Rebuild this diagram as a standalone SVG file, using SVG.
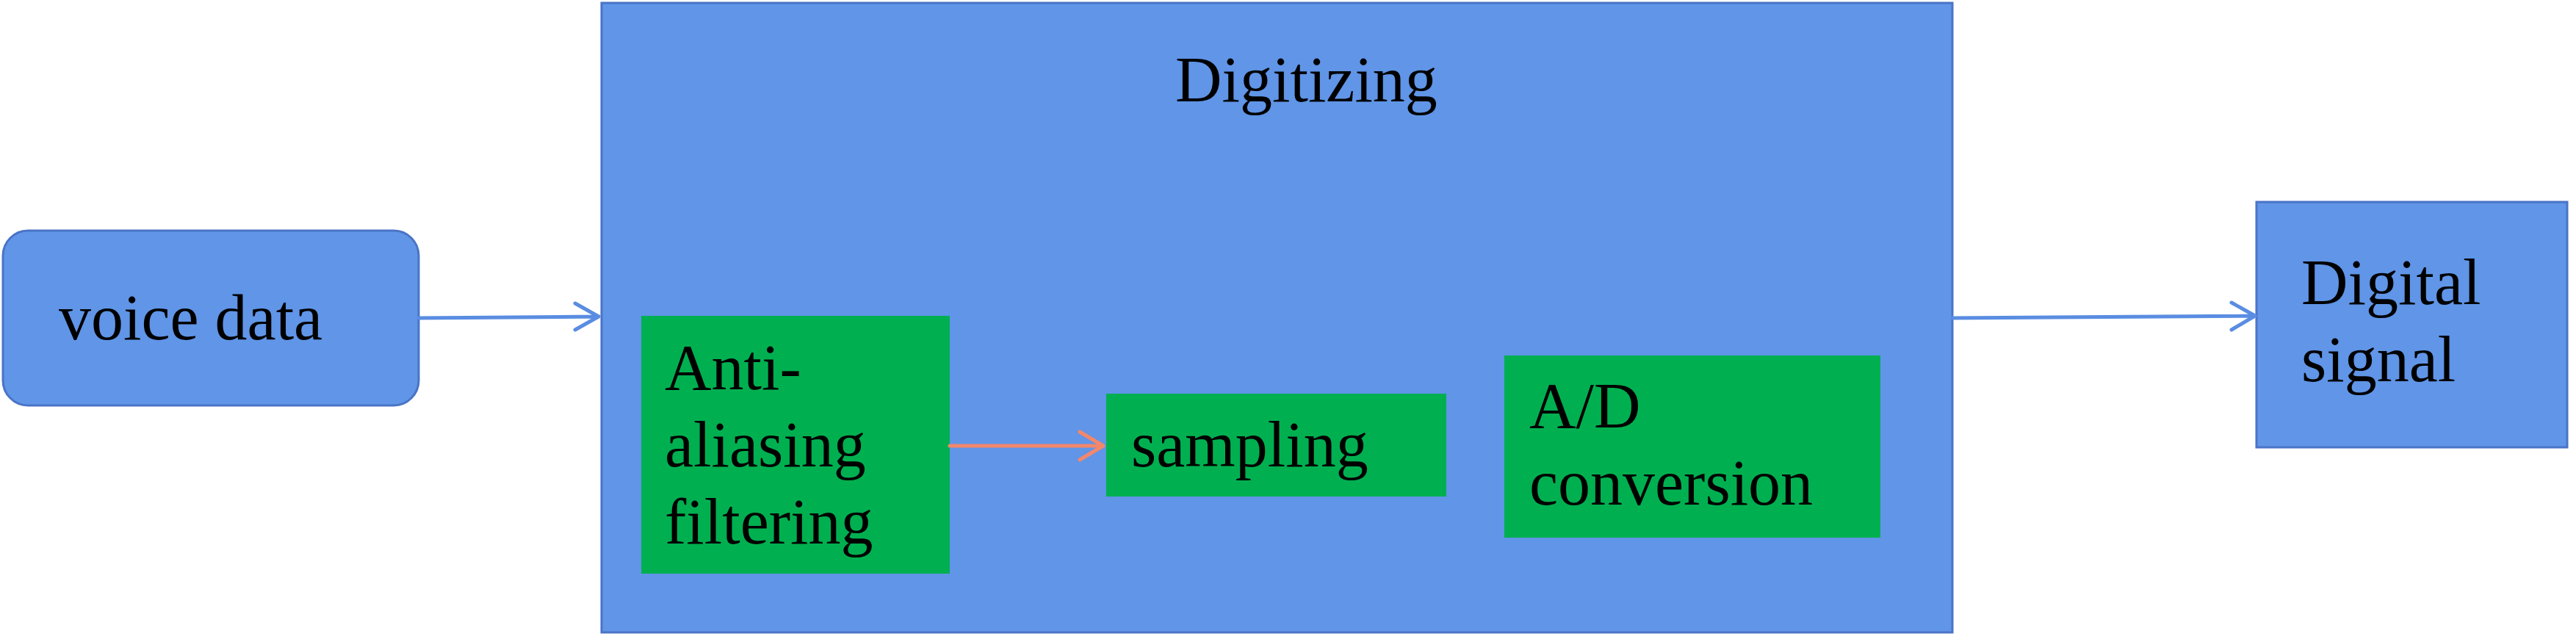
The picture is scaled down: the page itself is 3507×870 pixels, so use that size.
<svg xmlns="http://www.w3.org/2000/svg" width="3507" height="870" viewBox="0 0 3507 870">
<style>
.blue{fill:#6095E7;stroke:#4A74C6;stroke-width:3}
.green{fill:#00B050}
.t{font-family:"Liberation Serif","Times New Roman",serif;font-size:88px;fill:#000}
.cb{stroke:#5A8DE2;stroke-width:5;fill:none;stroke-linecap:round;stroke-linejoin:round}
.co{stroke:#F2876C;stroke-width:5;fill:none;stroke-linecap:round;stroke-linejoin:round}
</style>
<rect width="3507" height="870" fill="#fff"/>
<g id="digitizing">
<rect class="blue" x="819" y="4" width="1839" height="857"/>
<text class="t" x="1600" y="138">Digitizing</text>
</g>
<g id="voice-data">
<rect class="blue" x="4" y="314" width="566" height="238" rx="34" ry="34"/>
<text class="t" x="80" y="462">voice data</text>
</g>
<g id="anti-aliasing">
<rect class="green" x="873" y="430" width="420" height="351"/>
<text class="t"><tspan x="905" y="530">Anti-</tspan><tspan x="905" y="635">aliasing</tspan><tspan x="905" y="740">filtering</tspan></text>
</g>
<g id="sampling">
<rect class="green" x="1506" y="536" width="463" height="140"/>
<text class="t" x="1540" y="635">sampling</text>
</g>
<g id="ad-conversion">
<rect class="green" x="2048" y="484" width="512" height="248"/>
<text class="t"><tspan x="2082" y="582">A/D</tspan><tspan x="2082" y="687">conversion</tspan></text>
</g>
<g id="digital-signal">
<rect class="blue" x="3072" y="275" width="423" height="334"/>
<text class="t"><tspan x="3133" y="414">Digital</tspan><tspan x="3133" y="519">signal</tspan></text>
</g>
<g id="connectors">
<path class="cb" d="M570 433 L815 431 M783 413 L815 431 L783 449"/>
<path class="co" d="M1293 607 L1502 607 M1470 588 L1502 607 L1470 626"/>
<path class="cb" d="M2658 433 L3070 430 M3038 412 L3070 430 L3038 449"/>
</g>
</svg>
